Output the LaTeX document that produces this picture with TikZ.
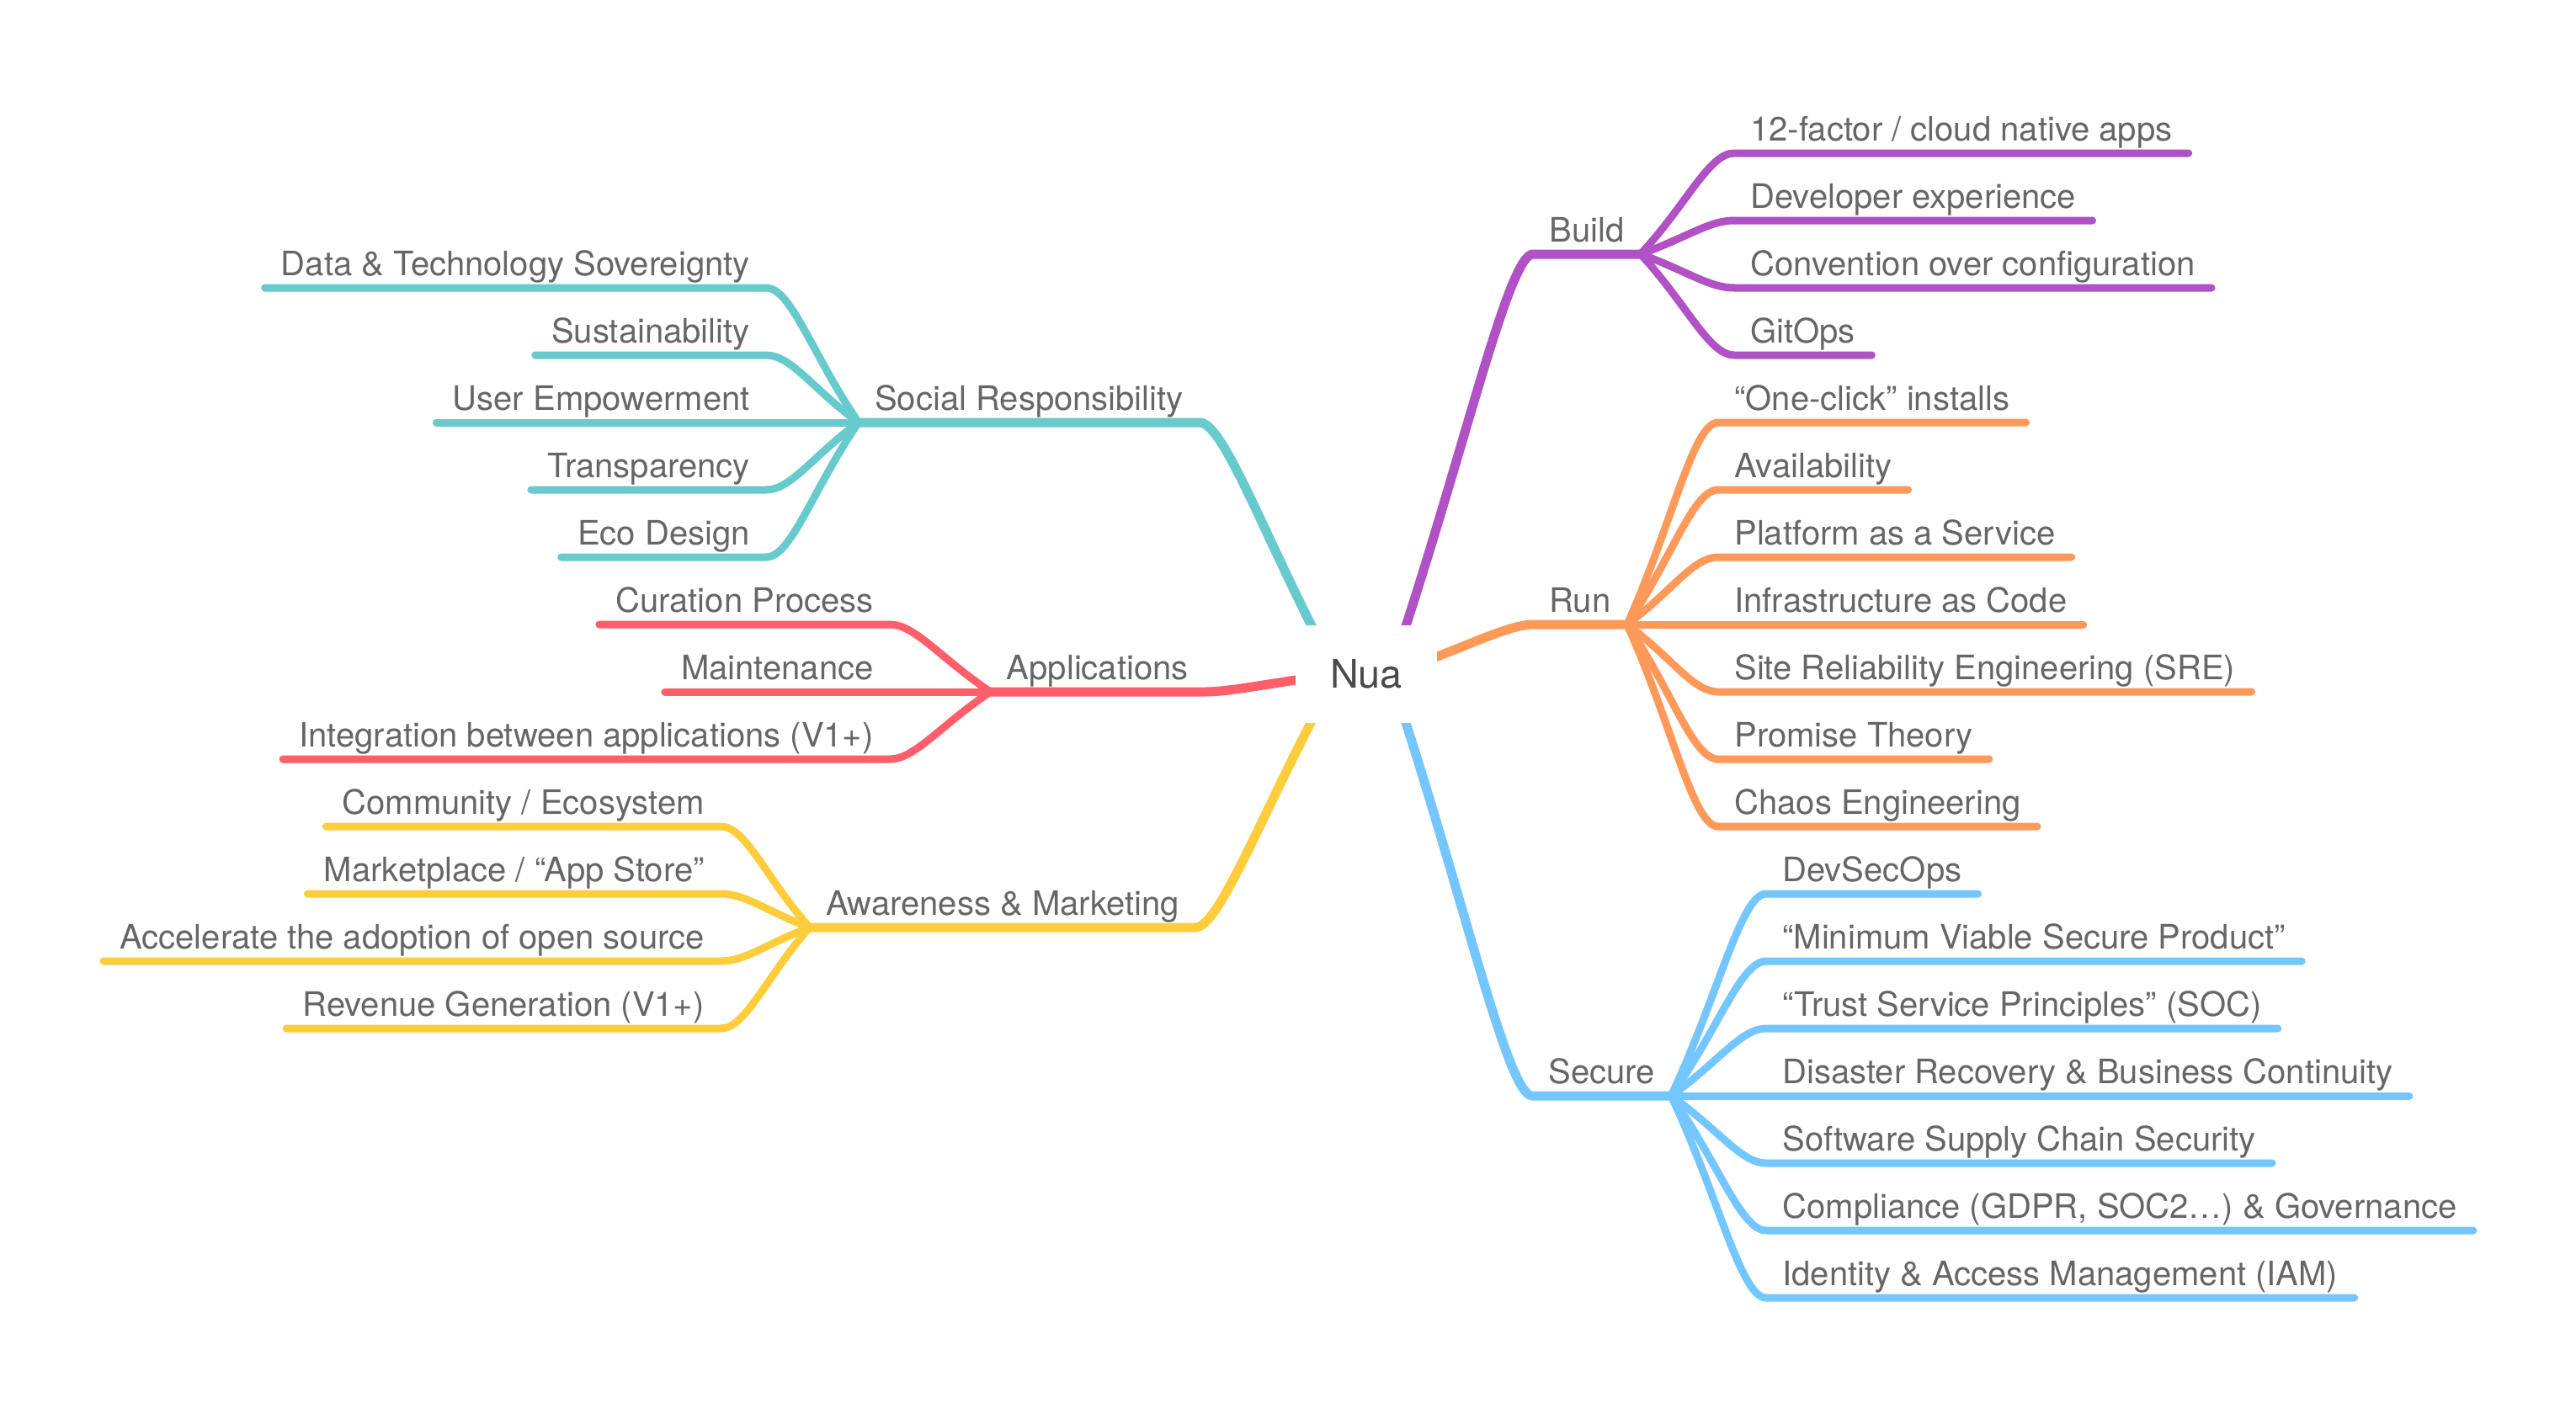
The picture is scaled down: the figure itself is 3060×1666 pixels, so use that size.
\documentclass[tikz,border=0pt]{standalone}
\usepackage{fontspec}
\setmainfont{TeX Gyre Heros}
\usepackage{tikz}
\usetikzlibrary{positioning, calc, backgrounds}

\definecolor{buildc}{HTML}{B051C6}
\definecolor{runc}{HTML}{FF995A}
\definecolor{securec}{HTML}{74C6FF}
\definecolor{socialc}{HTML}{67CACC}
\definecolor{appc}{HTML}{FF5E6A}
\definecolor{awarec}{HTML}{FFCC3C}
\definecolor{textgray}{HTML}{666666}
\definecolor{nuagray}{HTML}{4A4A4A}

\begin{document}
\begin{tikzpicture}[x=0.5pt, y=-0.5pt]

\tikzset{
	root/.style={
		fill=white, text=nuagray,
		minimum width=84pt, minimum height=58pt,
		inner sep=0pt,
		font=\fontsize{23.4}{28}\selectfont
	},
	topic/.style={
		text=textgray,
		inner xsep=9.5pt, inner ysep=7.25pt,
		text depth=0pt,
		font=\fontsize{20}{24}\selectfont
	},
	branch/.style={line width=5.5pt, line cap=round, line join=round},
	twig/.style={line width=4.5pt, line cap=round, line join=round}
}

\useasboundingbox (0,0) rectangle (3060,1666);

\node[root] (nua) at (1623,801) {Nua};
\coordinate (nuaL) at ([xshift=-17.5pt]nua.center);
\coordinate (nuaR) at ([xshift=14pt]nua.center);

% right side
\node[topic, anchor=south west] (build) at (1821,302) {Build};
\node[topic, anchor=south west] (run) at (1821,742) {Run};
\node[topic, anchor=south west] (secure) at (1820,1302) {Secure};

\foreach \txt [count=\i] in {12-factor / cloud native apps, Developer experience,
	Convention over configuration, GitOps}
	\node[topic, anchor=south west] (build\i) at (2060,102+80*\i) {\txt};

\foreach \txt [count=\i] in {“One-click” installs, Availability, Platform as a Service,
	Infrastructure as Code, Site Reliability Engineering (SRE), Promise Theory,
	Chaos Engineering}
	\node[topic, anchor=south west] (run\i) at (2041,422+80*\i) {\txt};

\foreach \txt [count=\i] in {DevSecOps, “Minimum Viable Secure Product”,
	“Trust Service Principles” (SOC), Disaster Recovery \& Business Continuity,
	Software Supply Chain Security, {Compliance (GDPR, SOC2…) \& Governance},
	Identity \& Access Management (IAM)}
	\node[topic, anchor=south west] (secure\i) at (2098,982+80*\i) {\txt};

% left side
\node[topic, anchor=south east] (social) at (1425,502) {Social Responsibility};
\node[topic, anchor=south east] (app) at (1431,822) {Applications};
\node[topic, anchor=south east] (aware) at (1420,1102) {Awareness \& Marketing};

\foreach \txt [count=\i] in {Data \& Technology Sovereignty, Sustainability,
	User Empowerment, Transparency, Eco Design}
	\node[topic, anchor=south east] (social\i) at (910,262+80*\i) {\txt};

\foreach \txt [count=\i] in {Curation Process, Maintenance,
	Integration between applications (V1+)}
	\node[topic, anchor=south east] (app\i) at (1057,662+80*\i) {\txt};

\foreach \txt [count=\i] in {Community / Ecosystem, Marketplace / “App Store”,
	Accelerate the adoption of open source, Revenue Generation (V1+)}
	\node[topic, anchor=south east] (aware\i) at (856,902+80*\i) {\txt};

\begin{scope}[on background layer]
	\foreach \n/\c in {build/buildc, run/runc, secure/securec}{
		\draw[branch, \c] (nuaR) .. controls ($(nuaR)!.5!(\n.south west)$) and +(-30,0)
			.. (\n.south west) -- (\n.south east);
	}
	\foreach \n/\c in {social/socialc, app/appc, aware/awarec}{
		\draw[branch, \c] (nuaL) .. controls ($(nuaL)!.5!(\n.south east)$) and +(30,0)
			.. (\n.south east) -- (\n.south west);
	}
	\foreach \n/\c/\k in {build/buildc/4, run/runc/7, secure/securec/7}{
		\foreach \i in {1,...,\k}
			\draw[twig, \c] (\n.south east) .. controls ($(\n.south east)!.5!(\n\i.south west)$)
				and +(-30,0) .. (\n\i.south west) -- (\n\i.south east);
	}
	\foreach \n/\c/\k in {social/socialc/5, app/appc/3, aware/awarec/4}{
		\foreach \i in {1,...,\k}
			\draw[twig, \c] (\n.south west) .. controls ($(\n.south west)!.5!(\n\i.south east)$)
				and +(30,0) .. (\n\i.south east) -- (\n\i.south west);
	}
\end{scope}

\end{tikzpicture}
\end{document}
